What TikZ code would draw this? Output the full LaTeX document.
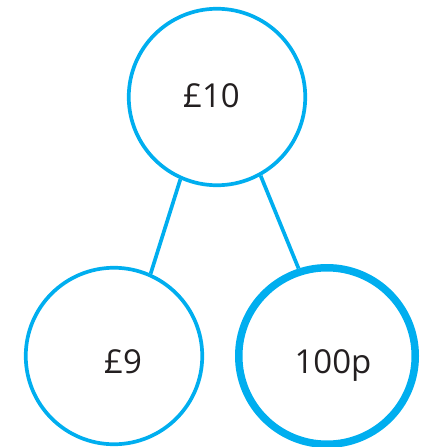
\documentclass[tikz,border=0pt]{standalone}
\usepackage{fontspec}
\setmainfont{Open Sans}
\definecolor{ring}{HTML}{00AEEF}
\definecolor{ink}{HTML}{231F20}
\begin{document}
\begin{tikzpicture}[x=1pt,y=-1pt,
  coin/.style={circle,draw=ring,line width=3.7pt,minimum size=176.5pt,inner sep=0pt},
  thickcoin/.style={coin,line width=7.5pt},
  amount/.style={anchor=base,inner sep=0pt,font=\fontsize{33}{40}\selectfont,text=ink},
  link/.style={draw=ring,line width=3.7pt}]
\useasboundingbox (0,0) rectangle (421,447);
\node[coin] (top) at (217,97) {};
\node[coin] (left) at (114,356) {};
\node[thickcoin] (right) at (327,356) {};
\node[amount] (ttop) at (211.5,107) {£10};
\node[amount] (tleft) at (123,373) {£9};
\node[amount] (tright) at (333,373) {100p};
\draw[link] (top.246.6) -- (left.66.8);
\draw[link] (top.299) -- (right.108);
\end{tikzpicture}
\end{document}
